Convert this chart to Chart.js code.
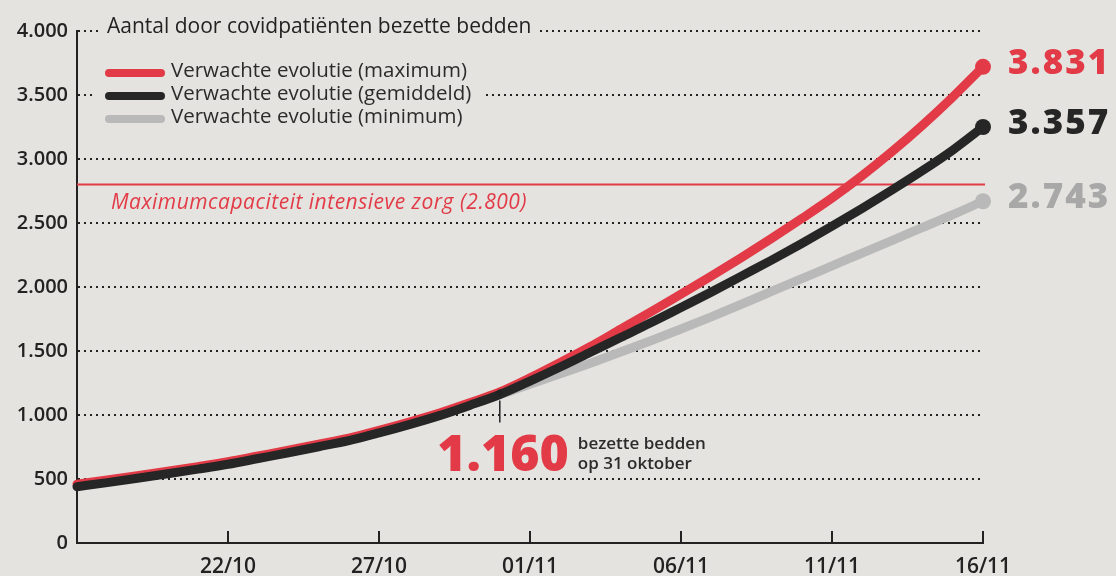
<!DOCTYPE html>
<html lang="nl">
<head>
<meta charset="utf-8">
<title>Bezette bedden covidpatiënten</title>
<script src="https://cdn.jsdelivr.net/npm/chart.js@4/dist/chart.umd.min.js"></script>
<style>
  html, body { margin: 0; padding: 0; background: #e4e3df; }
  #wrap { width: 1116px; height: 576px; }
</style>
</head>
<body>
<div id="wrap"><canvas id="bedsChart" width="1116" height="576"></canvas></div>
<script>
// dagen van 17/10 tot 16/11
const days = ['17/10', '18/10', '19/10', '20/10', '21/10', '22/10', '23/10', '24/10', '25/10', '26/10',
    '27/10', '28/10', '29/10', '30/10', '31/10', '01/11', '02/11', '03/11', '04/11', '05/11', '06/11',
    '07/11', '08/11', '09/11', '10/11', '11/11', '12/11', '13/11', '14/11', '15/11', '16/11'];
const tickLabels = ['22/10', '27/10', '01/11', '06/11', '11/11', '16/11'];
const yTickLabels = ['0', '500', '1.000', '1.500', '2.000', '2.500', '3.000', '3.500', '4.000'];

const maxValues = [460, 492, 526, 561, 597, 635, 680, 725, 772, 820, 880, 945, 1015, 1095, 1180,
    1290, 1410, 1535, 1670, 1805, 1945, 2085, 2230, 2380, 2535, 2695, 2870, 3060, 3265, 3485, 3720];
const avgValues = [440, 472, 506, 541, 577, 615, 660, 705, 752, 800, 860, 925, 995, 1075, 1160,
    1265, 1375, 1490, 1605, 1720, 1840, 1960, 2085, 2210, 2340, 2475, 2615, 2760, 2910, 3070, 3250];
const minValues = [null, null, null, null, null, null, null, null, null, null, null, null, null, null, 1160,
    1240, 1322, 1405, 1492, 1580, 1672, 1767, 1865, 1965, 2065, 2165, 2265, 2365, 2465, 2565, 2670];

const seriesNames = ['Verwachte evolutie (maximum)', 'Verwachte evolutie (gemiddeld)', 'Verwachte evolutie (minimum)'];
const endLabels = ['3.831', '3.357', '2.743'];
const capacity = 2800;
const capacityLabel = 'Maximumcapaciteit intensieve zorg (2.800)';
const title = 'Aantal door covidpatiënten bezette bedden';
const markerDay = '31/10';
const markerValue = '1.160';

const paper = '#e4e3df';
const red = '#e23b47';
const black = '#262626';
const grey = '#b9b9b9';
const ink = '#222222';
const FONT = '"Open Sans", sans-serif';

const lastIdx = days.length - 1;
const endDot = ctx => ctx.dataIndex === lastIdx ? 8 : 0;

// tekst en extra's rond de lijnen
const extras = {
    id: 'extras',
    beforeDatasetsDraw(chart) {
        const { ctx, chartArea, scales: { x, y } } = chart;
        ctx.save();

        // titel op de lijn van 4.000
        const ty = y.getPixelForValue(4000);
        ctx.font = '21px ' + FONT;
        const tw = ctx.measureText(title).width;
        ctx.fillStyle = paper;
        ctx.fillRect(chartArea.left + 23, ty - 8, tw + 14, 16);
        ctx.fillStyle = ink;
        ctx.textBaseline = 'middle';
        ctx.fillText(title, chartArea.left + 30, ty - 4);

        // legende
        const ly = [73, 96, 119];
        const colors = [red, black, grey];
        ctx.font = '20.5px ' + FONT;
        const lw = ctx.measureText(seriesNames[1]).width;
        ctx.fillStyle = paper;
        ctx.fillRect(chartArea.left + 18, ly[1] - 8, lw + 88, 16);
        seriesNames.forEach((name, i) => {
            ctx.strokeStyle = colors[i];
            ctx.lineWidth = 8;
            ctx.lineCap = 'round';
            ctx.beginPath();
            ctx.moveTo(chartArea.left + 32, ly[i]);
            ctx.lineTo(chartArea.left + 84, ly[i]);
            ctx.stroke();
            ctx.fillStyle = '#2b2b2b';
            ctx.fillText(name, chartArea.left + 94, ly[i] - 2);
        });

        // capaciteitslijn
        const cy = y.getPixelForValue(capacity);
        ctx.strokeStyle = red;
        ctx.lineWidth = 2;
        ctx.lineCap = 'butt';
        ctx.beginPath();
        ctx.moveTo(chartArea.left, cy);
        ctx.lineTo(chartArea.right + 2, cy);
        ctx.stroke();
        ctx.font = 'italic 21px ' + FONT;
        ctx.letterSpacing = '0.5px';
        ctx.fillStyle = red;
        ctx.fillText(capacityLabel, chartArea.left + 34, cy + 18);
        ctx.restore();
    },
    afterDatasetsDraw(chart) {
        const { ctx, chartArea, scales: { x, y } } = chart;
        ctx.save();

        // kleine streepjes op de x-as
        ctx.strokeStyle = ink;
        ctx.lineWidth = 2;
        tickLabels.forEach(t => {
            const px = x.getPixelForValue(days.indexOf(t));
            ctx.beginPath();
            ctx.moveTo(px, chartArea.bottom);
            ctx.lineTo(px, chartArea.bottom - 12);
            ctx.stroke();
        });

        // eindwaarden
        const colors = [red, black, '#a8a8a8'];
        ctx.font = '800 35px ' + FONT;
        ctx.letterSpacing = '2px';
        ctx.textBaseline = 'middle';
        chart.data.datasets.forEach((ds, i) => {
            const pt = chart.getDatasetMeta(i).data[lastIdx];
            ctx.fillStyle = colors[i];
            ctx.fillText(endLabels[i], pt.x + 25, pt.y - 3);
        });
        ctx.letterSpacing = '0px';

        // 1.160 op 31 oktober
        const mi = days.indexOf(markerDay);
        const mx = x.getPixelForValue(mi);
        const my = y.getPixelForValue(avgValues[mi]);
        ctx.strokeStyle = ink;
        ctx.lineWidth = 1.5;
        ctx.beginPath();
        ctx.moveTo(mx, my + 6);
        ctx.lineTo(mx, my + 28);
        ctx.stroke();
        ctx.fillStyle = ink;
        ctx.beginPath();
        ctx.arc(mx, my - 2, 3, 0, Math.PI * 2);
        ctx.fill();

        ctx.font = '800 50px ' + FONT;
        ctx.fillStyle = red;
        ctx.textAlign = 'right';
        ctx.textBaseline = 'alphabetic';
        ctx.fillText(markerValue, mx + 69, my + 76);
        ctx.textAlign = 'left';
        ctx.font = '600 17px ' + FONT;
        ctx.fillStyle = '#2b2b2b';
        ctx.fillText('bezette bedden', mx + 78, my + 54);
        ctx.fillText('op 31 oktober', mx + 78, my + 74);
        ctx.restore();
    }
};

const lineStyle = {
    borderWidth: 9,
    borderCapStyle: 'round',
    borderJoinStyle: 'round',
    cubicInterpolationMode: 'monotone',
    pointRadius: endDot,
    pointHoverRadius: endDot,
    pointBorderWidth: 0,
    clip: false,
    spanGaps: false
};

new Chart(document.getElementById('bedsChart'), {
    type: 'line',
    data: {
        labels: days,
        datasets: [
            { ...lineStyle, label: seriesNames[0], data: maxValues, borderColor: red, backgroundColor: red, order: 1 },
            { ...lineStyle, label: seriesNames[1], data: avgValues, borderColor: black, backgroundColor: black, order: 0 },
            { ...lineStyle, label: seriesNames[2], data: minValues, borderColor: grey, backgroundColor: grey, order: 2 }
        ]
    },
    options: {
        responsive: false,
        animation: false,
        devicePixelRatio: 1,
        layout: { padding: { top: 31, right: 133, bottom: 0, left: 0 } },
        plugins: { legend: { display: false }, tooltip: { enabled: false } },
        scales: {
            x: {
                type: 'category',
                offset: false,
                grid: { display: false, drawTicks: false },
                border: { display: true, color: ink, width: 2 },
                ticks: {
                    autoSkip: false,
                    maxRotation: 0,
                    padding: 11,
                    color: ink,
                    font: { family: FONT, size: 21, weight: '600' },
                    callback: (v, i) => tickLabels.includes(days[i]) ? days[i] : ''
                },
                afterFit: scale => { scale.height = 33; }
            },
            y: {
                min: 0,
                max: 4000,
                ticks: {
                    stepSize: 500,
                    padding: 9,
                    color: ink,
                    font: { family: FONT, size: 20, weight: '600' },
                    callback: (v, i) => yTickLabels[i]
                },
                grid: {
                    drawTicks: false,
                    lineWidth: 2,
                    color: ctx => ctx.tick && ctx.tick.value === 0 ? 'rgba(0,0,0,0)' : ink
                },
                border: { display: true, color: ink, width: 2, dash: [2, 4] },
                afterFit: scale => { scale.width = 77; }
            }
        }
    },
    plugins: [extras]
});
</script>
</body>
</html>
